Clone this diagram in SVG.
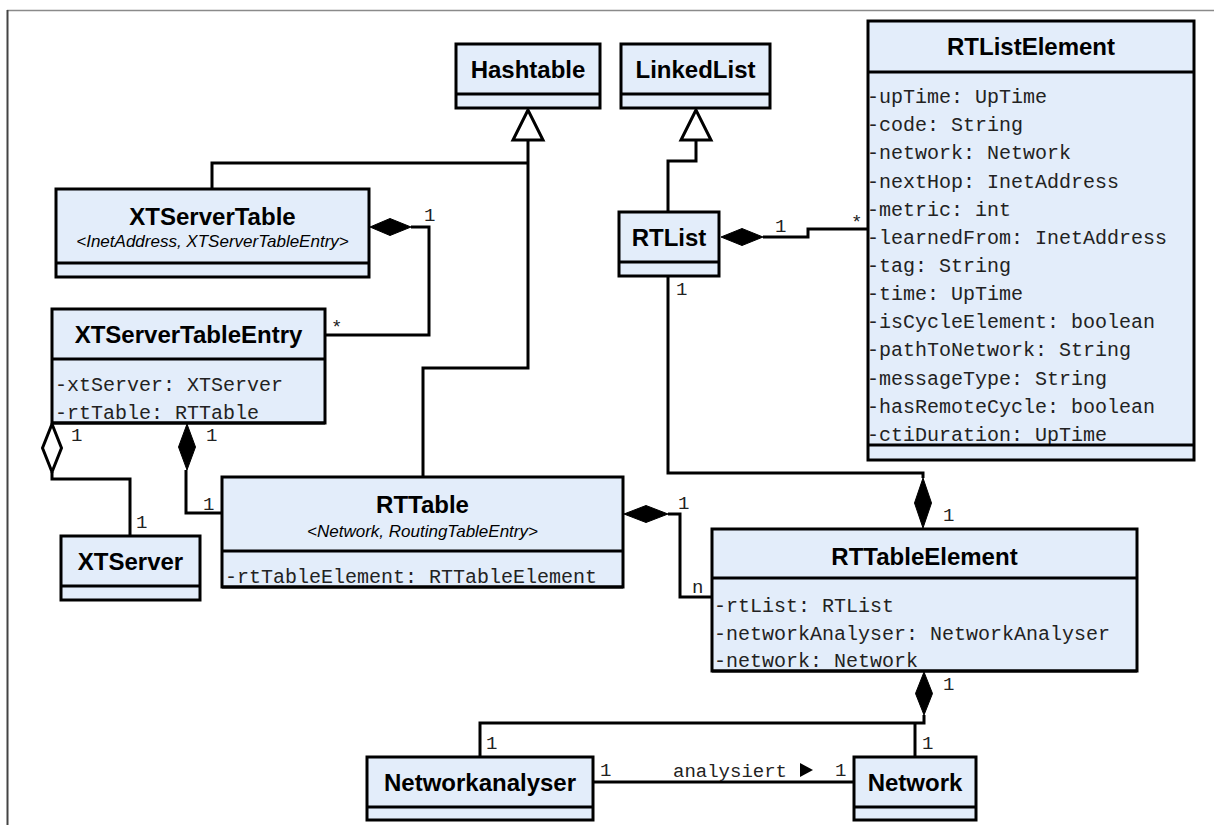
<svg xmlns="http://www.w3.org/2000/svg" width="1214" height="825" viewBox="0 0 1214 825">
<style>
.box{fill:#e3edfa;stroke:#000;stroke-width:3}
.div{stroke:#000;stroke-width:3;fill:none}
.t{font-family:"Liberation Sans",Arial,sans-serif;font-weight:bold;font-size:24px;fill:#000;text-anchor:middle}
.st{font-family:"Liberation Sans",Arial,sans-serif;font-style:italic;font-size:17px;fill:#000;text-anchor:middle}
.a{font-family:"Liberation Mono","Courier New",monospace;font-size:20px;fill:#222}
.m{font-family:"Liberation Mono","Courier New",monospace;font-size:19px;fill:#222}
.ln{fill:none;stroke:#000;stroke-width:3}
.fd{fill:#000;stroke:#000;stroke-width:1}
.hd{fill:#fff;stroke:#000;stroke-width:3}
</style>
<rect width="1214" height="825" fill="#fff"/>
<line x1="7" y1="10.5" x2="1214" y2="10.5" stroke="#8a8a8a" stroke-width="1.5"/>
<line x1="7.5" y1="10" x2="7.5" y2="825" stroke="#444" stroke-width="2"/>

<g id="connectors">
  <!-- Hashtable generalization -->
  <path class="ln" d="M212,189 V163 H528"/>
  <path class="ln" d="M423,477 V368 H528 V140"/>
  <polygon class="hd" points="528,110 513,140 543,140"/>
  <!-- LinkedList generalization -->
  <path class="ln" d="M668,212 V161 H696 V140"/>
  <polygon class="hd" points="696,110 681,140 711,140"/>
  <!-- XTServerTable - XTServerTableEntry -->
  <path class="ln" d="M411,227 H429 V335 H325"/>
  <polygon class="fd" points="370,227 390,218.5 411,227 390,235.5"/>
  <text class="m" x="424" y="221">1</text>
  <text class="m" x="331" y="333">*</text>
  <!-- RTList - RTListElement -->
  <path class="ln" d="M763,237 H808 V229 H868"/>
  <polygon class="fd" points="721,237 742,228.5 763,237 742,245.5"/>
  <text class="m" x="775" y="232">1</text>
  <text class="m" x="851" y="228">*</text>
  <!-- XTServerTableEntry - XTServer (aggregation) -->
  <path class="ln" d="M52,472 V479 H130 V536"/>
  <polygon class="hd" points="52,424 61.5,448 52,472 42.5,448"/>
  <text class="m" x="71" y="441">1</text>
  <text class="m" x="136" y="528">1</text>
  <!-- XTServerTableEntry - RTTable -->
  <path class="ln" d="M186,470 V513 H222"/>
  <polygon class="fd" points="187,424 195.5,447 187,470 178.5,447"/>
  <text class="m" x="206" y="441">1</text>
  <text class="m" x="203" y="510">1</text>
  <!-- RTTable - RTTableElement -->
  <path class="ln" d="M668,514 H680 V597 H712"/>
  <polygon class="fd" points="624,514 646,505.5 668,514 646,522.5"/>
  <text class="m" x="678" y="509">1</text>
  <text class="m" x="692" y="593">n</text>
  <!-- RTList - RTTableElement -->
  <path class="ln" d="M668,276 V473 H923 V478"/>
  <polygon class="fd" points="923,478 931.5,503 923,528 914.5,503"/>
  <text class="m" x="676" y="295">1</text>
  <text class="m" x="943" y="521">1</text>
  <!-- RTTableElement - Network / Networkanalyser -->
  <path class="ln" d="M924,715 V723 H480 V757"/>
  <path class="ln" d="M915,723 V757"/>
  <polygon class="fd" points="924,672 932.5,693.5 924,715 915.5,693.5"/>
  <text class="m" x="943" y="690">1</text>
  <text class="m" x="922" y="749">1</text>
  <text class="m" x="486" y="749">1</text>
  <!-- Networkanalyser - Network association -->
  <path class="ln" d="M593,782 H854"/>
  <text class="m" x="600" y="776">1</text>
  <text class="m" x="673" y="777">analysiert</text>
  <polygon points="800,763 813,770 800,777" fill="#000"/>
  <text class="m" x="835" y="776">1</text>
</g>

<g id="Hashtable">
  <rect class="box" x="456" y="44" width="144" height="64"/>
  <line class="div" x1="456" y1="94" x2="600" y2="94"/>
  <text class="t" x="528" y="78">Hashtable</text>
</g>

<g id="LinkedList">
  <rect class="box" x="621" y="44" width="149" height="64"/>
  <line class="div" x1="621" y1="94" x2="770" y2="94"/>
  <text class="t" x="695.5" y="78">LinkedList</text>
</g>

<g id="RTListElement">
  <rect class="box" x="868" y="21" width="326" height="439"/>
  <text class="t" x="1031" y="55">RTListElement</text>
  <text class="a" x="867" y="103">-upTime: UpTime</text>
  <text class="a" x="867" y="131.2">-code: String</text>
  <text class="a" x="867" y="159.3">-network: Network</text>
  <text class="a" x="867" y="187.5">-nextHop: InetAddress</text>
  <text class="a" x="867" y="215.6">-metric: int</text>
  <text class="a" x="867" y="243.8">-learnedFrom: InetAddress</text>
  <text class="a" x="867" y="271.9">-tag: String</text>
  <text class="a" x="867" y="300.1">-time: UpTime</text>
  <text class="a" x="867" y="328.2">-isCycleElement: boolean</text>
  <text class="a" x="867" y="356.4">-pathToNetwork: String</text>
  <text class="a" x="867" y="384.5">-messageType: String</text>
  <text class="a" x="867" y="412.7">-hasRemoteCycle: boolean</text>
  <text class="a" x="867" y="440.8">-ctiDuration: UpTime</text>
  <line class="div" x1="868" y1="72" x2="1194" y2="72"/>
  <line class="div" x1="868" y1="445" x2="1194" y2="445"/>
</g>

<g id="XTServerTable">
  <rect class="box" x="56" y="189" width="313" height="88"/>
  <line class="div" x1="56" y1="263" x2="369" y2="263"/>
  <text class="t" x="212.5" y="225">XTServerTable</text>
  <text class="st" x="212.5" y="247">&lt;InetAddress, XTServerTableEntry&gt;</text>
</g>

<g id="RTList">
  <rect class="box" x="619" y="212" width="100" height="64"/>
  <line class="div" x1="619" y1="262" x2="719" y2="262"/>
  <text class="t" x="669" y="246">RTList</text>
</g>

<g id="XTServerTableEntry">
  <rect class="box" x="52" y="309" width="273" height="114"/>
  <text class="t" x="188.5" y="343">XTServerTableEntry</text>
  <text class="a" x="55" y="391">-xtServer: XTServer</text>
  <text class="a" x="55" y="419">-rtTable: RTTable</text>
  <line class="div" x1="52" y1="359" x2="325" y2="359"/>
  <line class="div" x1="52" y1="423" x2="325" y2="423"/>
</g>

<g id="XTServer">
  <rect class="box" x="61" y="536" width="139" height="64"/>
  <line class="div" x1="61" y1="586" x2="200" y2="586"/>
  <text class="t" x="130.5" y="570">XTServer</text>
</g>

<g id="RTTable">
  <rect class="box" x="222" y="477" width="401" height="110"/>
  <text class="t" x="422.5" y="513">RTTable</text>
  <text class="st" x="422.5" y="537">&lt;Network, RoutingTableEntry&gt;</text>
  <text class="a" x="225" y="583">-rtTableElement: RTTableElement</text>
  <line class="div" x1="222" y1="551" x2="623" y2="551"/>
  <line class="div" x1="222" y1="587" x2="623" y2="587"/>
</g>

<g id="RTTableElement">
  <rect class="box" x="712" y="529" width="425" height="142"/>
  <text class="t" x="924.5" y="565">RTTableElement</text>
  <text class="a" x="714" y="612">-rtList: RTList</text>
  <text class="a" x="714" y="639.5">-networkAnalyser: NetworkAnalyser</text>
  <text class="a" x="714" y="667">-network: Network</text>
  <line class="div" x1="712" y1="578" x2="1137" y2="578"/>
  <line class="div" x1="712" y1="671" x2="1137" y2="671"/>
</g>

<g id="Networkanalyser">
  <rect class="box" x="367" y="757" width="226" height="63"/>
  <line class="div" x1="367" y1="807" x2="593" y2="807"/>
  <text class="t" x="480" y="791">Networkanalyser</text>
</g>

<g id="Network">
  <rect class="box" x="854" y="757" width="122" height="63"/>
  <line class="div" x1="854" y1="807" x2="976" y2="807"/>
  <text class="t" x="915" y="791">Network</text>
</g>
</svg>
